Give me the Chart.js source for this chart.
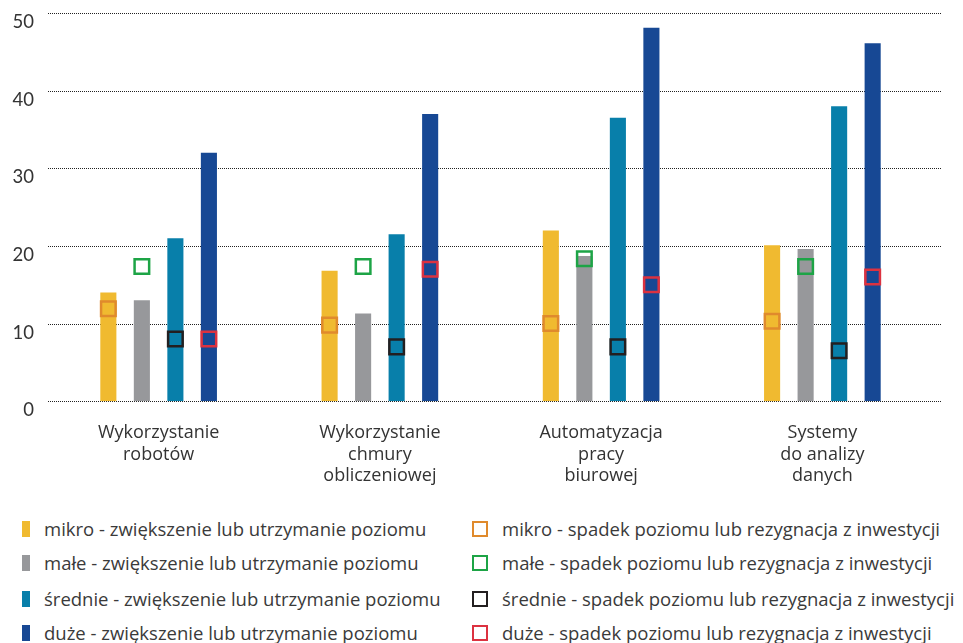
<!DOCTYPE html>
<html>
<head>
<meta charset="utf-8">
<script src="https://cdn.jsdelivr.net/npm/chart.js@4"></script>
<style>
  body { margin: 0; background: #fff; font-family: 'Open Sans', sans-serif; }
  #wrap { position: relative; width: 963px; height: 643px; }
  #chart { position: absolute; left: 0; top: 0; }
  .legend-item { position: absolute; font-size: 18.5px; color: #3a3a3a; line-height: 20px; white-space: nowrap; }
  .swatch { position: absolute; box-sizing: border-box; }
</style>
</head>
<body>
<div id="wrap">
  <canvas id="chart" width="963" height="508"></canvas>
  <div id="legend"></div>
</div>
<script>
// categories
const categories = [
    ['Wykorzystanie', 'robotów'],
    ['Wykorzystanie', 'chmury', 'obliczeniowej'],
    ['Automatyzacja', 'pracy', 'biurowej'],
    ['Systemy', 'do analizy', 'danych']
];
const yTicks = [0, 10, 20, 30, 40, 50];

// bars: increase or keep level
const barLabels = [
    'mikro - zwiększenie lub utrzymanie poziomu',
    'małe - zwiększenie lub utrzymanie poziomu',
    'średnie - zwiększenie lub utrzymanie poziomu',
    'duże - zwiększenie lub utrzymanie poziomu'
];
const mikroUp   = [14.0, 16.8, 22.0, 20.1];
const maleUp    = [13.0, 11.3, 18.7, 19.6];
const srednieUp = [21.0, 21.5, 36.5, 38.0];
const duzeUp    = [32.0, 37.0, 48.1, 46.1];

// markers: decrease or give up investment
const markerLabels = [
    'mikro - spadek poziomu lub rezygnacja z inwestycji',
    'małe - spadek poziomu lub rezygnacja z inwestycji',
    'średnie - spadek poziomu lub rezygnacja z inwestycji',
    'duże - spadek poziomu lub rezygnacja z inwestycji'
];
const mikroDown   = [11.9, 9.8, 10.0, 10.3];
const maleDown    = [17.35, 17.35, 18.35, 17.35];
const srednieDown = [8.0, 7.0, 7.0, 6.5];
const duzeDown    = [8.0, 17.0, 15.0, 16.0];

const barColors = ['#F0BA30', '#97989B', '#087FAA', '#174894'];
const markerColors = ['#E08A2C', '#1DA446', '#231F20', '#DC3240'];

const barSeries = [mikroUp, maleUp, srednieUp, duzeUp];
const markerSeries = [mikroDown, maleDown, srednieDown, duzeDown];

const datasets = [];
barSeries.forEach((data, i) => {
    datasets.push({
        type: 'bar',
        label: barLabels[i],
        data: data,
        backgroundColor: barColors[i],
        categoryPercentage: 0.606,
        barPercentage: 0.48,
        order: 2
    });
});
markerSeries.forEach((data, i) => {
    datasets.push({
        type: 'line',
        label: markerLabels[i],
        data: data,
        showLine: false,
        pointStyle: 'rect',
        pointRadius: 10.3,
        pointHoverRadius: 10.3,
        pointBorderWidth: 2.5,
        pointBorderColor: markerColors[i],
        pointBackgroundColor: 'rgba(0,0,0,0)',
        order: 1
    });
});

// move each marker onto the bar of the same company size
const alignMarkers = {
    id: 'alignMarkers',
    afterDatasetsUpdate(chart) {
        for (let j = 0; j < 4; j++) {
            const bars = chart.getDatasetMeta(j).data;
            const pts = chart.getDatasetMeta(j + 4).data;
            pts.forEach((p, i) => { p.x = bars[i].x; });
        }
    }
};

// dotted grid lines, a bit wider than the plot area
const dottedGrid = {
    id: 'dottedGrid',
    beforeDatasetsDraw(chart) {
        const ctx = chart.ctx;
        const y = chart.scales.y;
        const area = chart.chartArea;
        ctx.save();
        ctx.strokeStyle = '#222';
        ctx.lineWidth = 1;
        ctx.setLineDash([1, 1]);
        yTicks.forEach(v => {
            const py = Math.round(y.getPixelForValue(v)) + 0.5;
            ctx.beginPath();
            ctx.moveTo(area.left, py);
            ctx.lineTo(area.right + 8, py);
            ctx.stroke();
        });
        ctx.restore();
    }
};

new Chart(document.getElementById('chart').getContext('2d'), {
    data: { labels: categories, datasets: datasets },
    plugins: [alignMarkers, dottedGrid],
    options: {
        responsive: false,
        animation: false,
        layout: { padding: { left: 0, right: 30, top: 13, bottom: 0 } },
        plugins: { legend: { display: false }, tooltip: { enabled: false } },
        scales: {
            x: {
                grid: { display: false, drawTicks: false },
                border: { display: false },
                ticks: {
                    color: '#333',
                    padding: 21,
                    maxRotation: 0,
                    autoSkip: false,
                    font: { family: 'Open Sans', size: 18, lineHeight: 1.2 }
                }
            },
            y: {
                min: 0,
                max: 50,
                afterBuildTicks(scale) { scale.ticks = yTicks.map(v => ({ value: v })); },
                afterFit(scale) {
                    scale.width = 48;
                    scale.paddingTop = 0;
                    scale.paddingBottom = 0;
                },
                grid: { display: false, drawTicks: false },
                border: { display: false },
                ticks: {
                    color: '#333',
                    padding: 14,
                    labelOffset: 9,
                    font: { family: 'Lato', size: 18.5 }
                }
            }
        }
    }
});

// two-column legend below the chart
const legend = document.getElementById('legend');
const rowTops = [519, 553, 589, 623];
barLabels.forEach((txt, i) => {
    const sw = document.createElement('div');
    sw.className = 'swatch';
    sw.style.cssText = `left:22px;top:${rowTops[i] + 2}px;width:8px;height:16px;background:${barColors[i]}`;
    legend.appendChild(sw);
    const t = document.createElement('div');
    t.className = 'legend-item';
    t.style.left = '44px';
    t.style.top = rowTops[i] + 'px';
    t.textContent = txt;
    legend.appendChild(t);
});
markerLabels.forEach((txt, i) => {
    const sw = document.createElement('div');
    sw.className = 'swatch';
    sw.style.cssText = `left:472px;top:${rowTops[i] + 2}px;width:16px;height:16px;border:2.5px solid ${markerColors[i]}`;
    legend.appendChild(sw);
    const t = document.createElement('div');
    t.className = 'legend-item';
    t.style.left = '502px';
    t.style.top = rowTops[i] + 'px';
    t.textContent = txt;
    legend.appendChild(t);
});
</script>
</body>
</html>
